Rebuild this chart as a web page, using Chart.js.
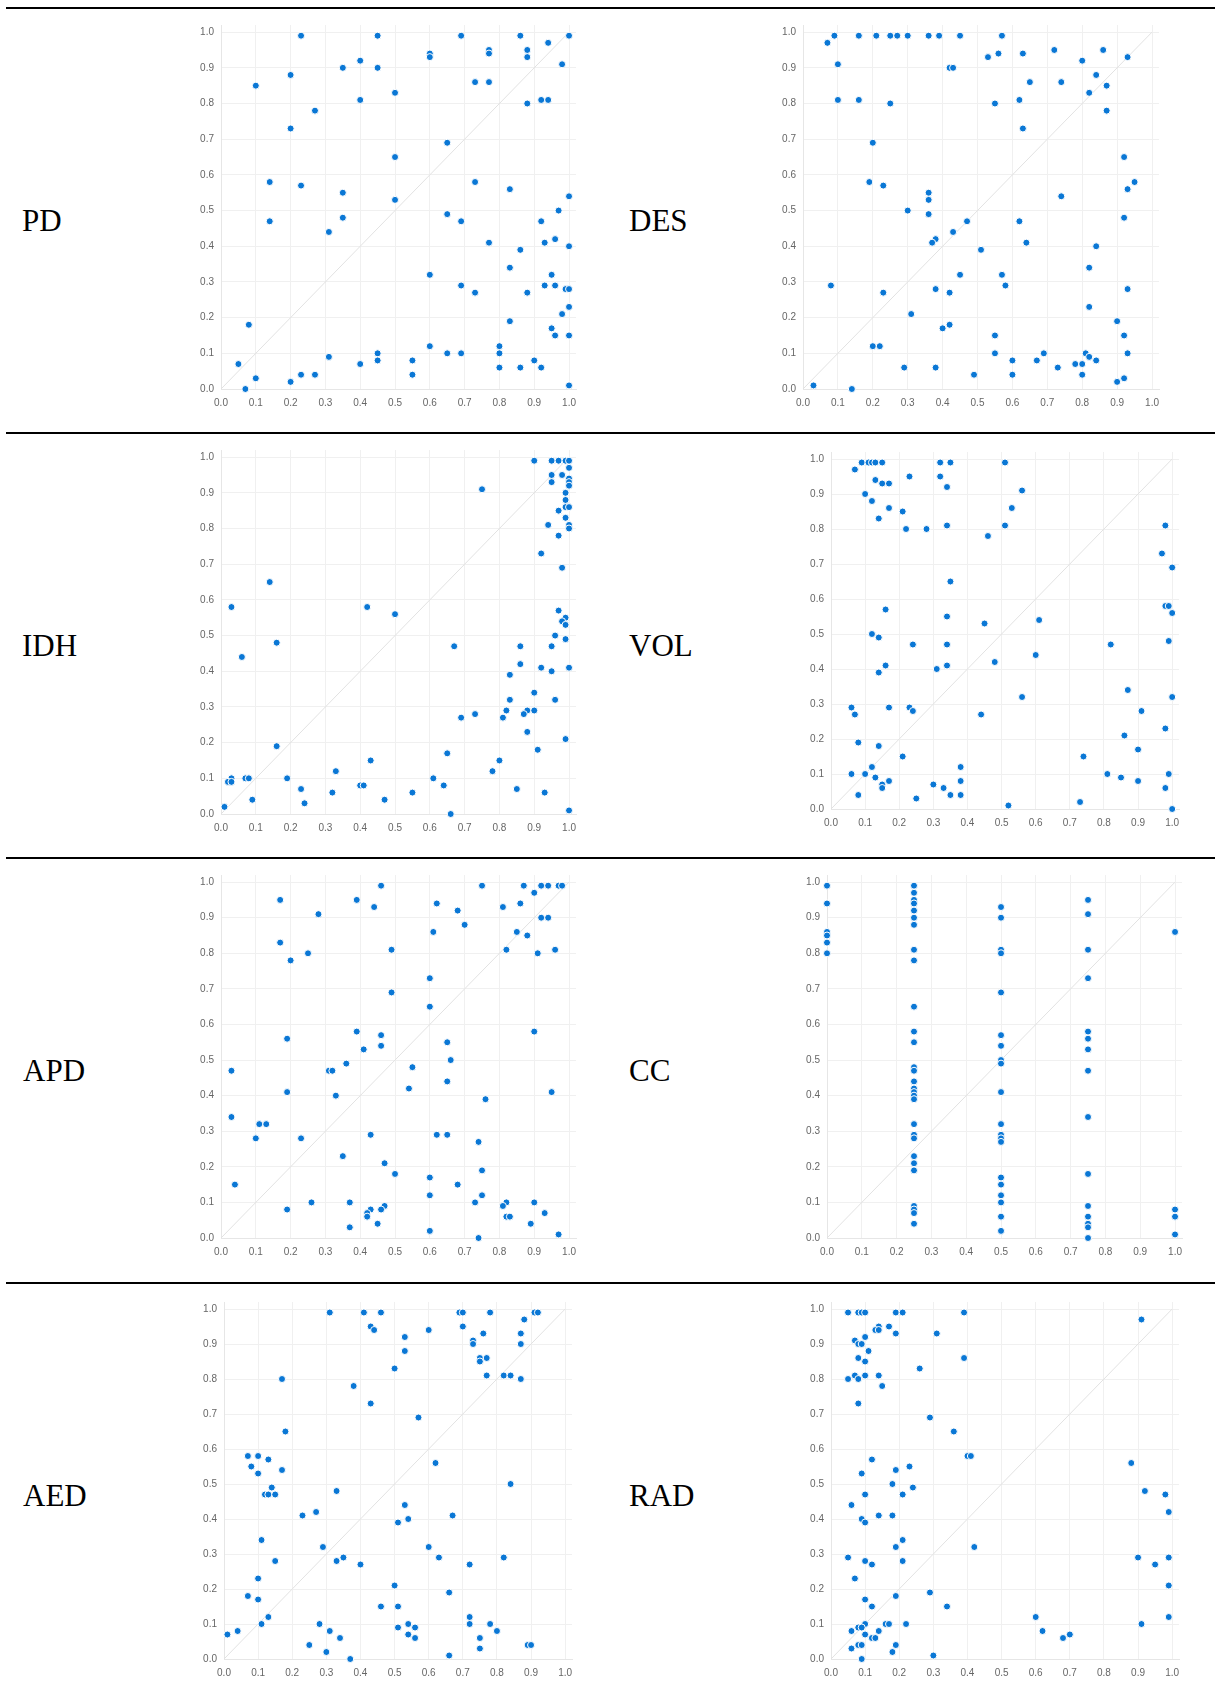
<!DOCTYPE html>
<html>
<head>
<meta charset="utf-8">
<script src="https://cdn.jsdelivr.net/npm/chart.js@4/dist/chart.umd.min.js"></script>
<style>
  body { margin: 0; background: #fff; }
  #page { position: relative; width: 1215px; height: 1700px; overflow: hidden; }
  .rule { position: absolute; left: 6px; width: 1209px; height: 2px; background: #000; }
  .name { position: absolute; font-family: "Liberation Serif", "Times New Roman", serif; font-size: 31px; line-height: 31px; color: #000; }
  .plot { position: absolute; }
</style>
</head>
<body>
<div id="page"></div>
<script>
// panel names, left column then right column, row by row
const panelNames = ["PD", "DES", "IDH", "VOL", "APD", "CC", "AED", "RAD"];
const tickValues = [0, 0.1, 0.2, 0.3, 0.4, 0.5, 0.6, 0.7, 0.8, 0.9, 1.0];

const pdX = [0.23,0.45,0.69,0.86,1.0,0.77,0.77,0.88,0.88,0.94,0.60,0.60,0.98,0.35,0.45,0.40,0.20,0.10,0.73,0.77,0.50,0.40,0.92,0.94,0.88,0.27,0.20,0.65,0.50,0.14,0.73,0.23,0.83,0.35,1.0,0.50,0.97,0.65,0.35,0.14,0.69,0.92,0.31,0.96,0.77,0.93,1.0,0.86,0.83,0.60,0.95,0.69,0.93,0.96,0.99,1.0,0.73,0.88,1.0,0.98,0.83,0.08,0.95,0.96,1.0,0.60,0.80,0.45,0.65,0.69,0.80,0.31,0.45,0.55,0.90,0.05,0.40,0.80,0.86,0.92,0.23,0.27,0.55,0.10,0.20,1.0,0.07];
const pdY = [0.99,0.99,0.99,0.99,0.99,0.95,0.94,0.95,0.93,0.97,0.94,0.93,0.91,0.90,0.90,0.92,0.88,0.85,0.86,0.86,0.83,0.81,0.81,0.81,0.80,0.78,0.73,0.69,0.65,0.58,0.58,0.57,0.56,0.55,0.54,0.53,0.50,0.49,0.48,0.47,0.47,0.47,0.44,0.42,0.41,0.41,0.40,0.39,0.34,0.32,0.32,0.29,0.29,0.29,0.28,0.28,0.27,0.27,0.23,0.21,0.19,0.18,0.17,0.15,0.15,0.12,0.12,0.10,0.10,0.10,0.10,0.09,0.08,0.08,0.08,0.07,0.07,0.06,0.06,0.06,0.04,0.04,0.04,0.03,0.02,0.01,0.00];

const desX = [0.07,0.09,0.16,0.21,0.25,0.27,0.30,0.36,0.39,0.45,0.57,0.10,0.53,0.56,0.63,0.72,0.86,0.93,0.80,0.42,0.43,0.84,0.65,0.74,0.87,0.82,0.10,0.16,0.62,0.25,0.55,0.87,0.63,0.20,0.92,0.19,0.95,0.23,0.93,0.36,0.74,0.36,0.30,0.36,0.92,0.47,0.62,0.43,0.38,0.37,0.64,0.84,0.51,0.82,0.45,0.57,0.08,0.58,0.38,0.93,0.23,0.42,0.82,0.31,0.90,0.42,0.40,0.55,0.92,0.20,0.22,0.55,0.69,0.81,0.93,0.82,0.60,0.67,0.84,0.78,0.80,0.29,0.38,0.73,0.49,0.60,0.80,0.92,0.90,0.03,0.14];
const desY = [0.97,0.99,0.99,0.99,0.99,0.99,0.99,0.99,0.99,0.99,0.99,0.91,0.93,0.94,0.94,0.95,0.95,0.93,0.92,0.90,0.90,0.88,0.86,0.86,0.85,0.83,0.81,0.81,0.81,0.80,0.80,0.78,0.73,0.69,0.65,0.58,0.58,0.57,0.56,0.55,0.54,0.53,0.50,0.49,0.48,0.47,0.47,0.44,0.42,0.41,0.41,0.40,0.39,0.34,0.32,0.32,0.29,0.29,0.28,0.28,0.27,0.27,0.23,0.21,0.19,0.18,0.17,0.15,0.15,0.12,0.12,0.10,0.10,0.10,0.10,0.09,0.08,0.08,0.08,0.07,0.07,0.06,0.06,0.06,0.04,0.04,0.04,0.03,0.02,0.01,0.00];

const idhX = [0.90,0.95,0.97,0.99,1.0,1.0,0.95,0.98,1.0,0.95,1.0,1.0,0.75,0.99,0.99,0.99,1.0,0.97,0.99,0.94,1.0,1.0,0.97,0.92,0.98,0.14,0.03,0.42,0.97,0.50,0.99,0.98,0.99,0.96,0.99,0.16,0.67,0.86,0.95,0.06,0.86,0.92,1.0,0.95,0.83,0.90,0.83,0.96,0.82,0.88,0.90,0.73,0.87,0.69,0.81,0.88,0.99,0.16,0.91,0.65,0.43,0.80,0.33,0.78,0.03,0.07,0.08,0.19,0.61,0.02,0.03,0.40,0.41,0.64,0.23,0.85,0.32,0.55,0.93,0.09,0.47,0.24,0.01,1.0,0.66];
const idhY = [0.99,0.99,0.99,0.99,0.99,0.97,0.95,0.95,0.94,0.93,0.93,0.92,0.91,0.90,0.88,0.86,0.86,0.85,0.83,0.81,0.81,0.80,0.78,0.73,0.69,0.65,0.58,0.58,0.57,0.56,0.55,0.54,0.53,0.50,0.49,0.48,0.47,0.47,0.47,0.44,0.42,0.41,0.41,0.40,0.39,0.34,0.32,0.32,0.29,0.29,0.29,0.28,0.28,0.27,0.27,0.23,0.21,0.19,0.18,0.17,0.15,0.15,0.12,0.12,0.10,0.10,0.10,0.10,0.10,0.09,0.09,0.08,0.08,0.08,0.07,0.07,0.06,0.06,0.06,0.04,0.04,0.03,0.02,0.01,0.00];

const volX = [0.07,0.09,0.11,0.12,0.13,0.15,0.32,0.35,0.51,0.13,0.23,0.32,0.15,0.17,0.34,0.56,0.10,0.12,0.17,0.53,0.21,0.14,0.34,0.51,0.98,0.22,0.28,0.46,0.97,1.0,0.35,0.16,0.98,0.99,1.0,0.34,0.61,0.45,0.12,0.14,0.99,0.24,0.34,0.82,0.16,0.34,0.48,0.60,0.31,0.14,0.87,0.56,1.0,0.06,0.17,0.23,0.24,0.91,0.07,0.44,0.98,0.86,0.08,0.14,0.90,0.21,0.74,0.12,0.38,0.06,0.10,0.81,0.99,0.13,0.85,0.15,0.15,0.17,0.38,0.90,0.30,0.33,0.98,0.08,0.35,0.38,0.25,0.73,0.52,1.0];
const volY = [0.97,0.99,0.99,0.99,0.99,0.99,0.99,0.99,0.99,0.94,0.95,0.95,0.93,0.93,0.92,0.91,0.90,0.88,0.86,0.86,0.85,0.83,0.81,0.81,0.81,0.80,0.80,0.78,0.73,0.69,0.65,0.57,0.58,0.58,0.56,0.55,0.54,0.53,0.50,0.49,0.48,0.47,0.47,0.47,0.41,0.41,0.42,0.44,0.40,0.39,0.34,0.32,0.32,0.29,0.29,0.29,0.28,0.28,0.27,0.27,0.23,0.21,0.19,0.18,0.17,0.15,0.15,0.12,0.12,0.10,0.10,0.10,0.10,0.09,0.09,0.07,0.06,0.08,0.08,0.08,0.07,0.06,0.06,0.04,0.04,0.04,0.03,0.02,0.01,0.00];

const apdX = [0.46,0.75,0.87,0.92,0.94,0.97,0.98,0.90,0.17,0.39,0.86,0.62,0.44,0.81,0.68,0.28,0.92,0.94,0.70,0.61,0.85,0.88,0.17,0.49,0.82,0.96,0.91,0.25,0.20,0.60,0.49,0.60,0.39,0.90,0.46,0.19,0.65,0.46,0.41,0.66,0.36,0.55,0.03,0.31,0.32,0.65,0.54,0.19,0.95,0.33,0.76,0.03,0.11,0.13,0.10,0.23,0.43,0.62,0.65,0.74,0.35,0.47,0.75,0.50,0.60,0.04,0.68,0.60,0.75,0.26,0.37,0.73,0.82,0.90,0.47,0.81,0.19,0.43,0.46,0.42,0.93,0.42,0.82,0.83,0.45,0.89,0.37,0.60,0.97,0.74];
const apdY = [0.99,0.99,0.99,0.99,0.99,0.99,0.99,0.97,0.95,0.95,0.94,0.94,0.93,0.93,0.92,0.91,0.90,0.90,0.88,0.86,0.86,0.85,0.83,0.81,0.81,0.81,0.80,0.80,0.78,0.73,0.69,0.65,0.58,0.58,0.57,0.56,0.55,0.54,0.53,0.50,0.49,0.48,0.47,0.47,0.47,0.44,0.42,0.41,0.41,0.40,0.39,0.34,0.32,0.32,0.28,0.28,0.29,0.29,0.29,0.27,0.23,0.21,0.19,0.18,0.17,0.15,0.15,0.12,0.12,0.10,0.10,0.10,0.10,0.10,0.09,0.09,0.08,0.08,0.08,0.07,0.07,0.06,0.06,0.06,0.04,0.04,0.03,0.02,0.01,0.00];

const ccX = [0,0,0,0,0,0,
  0.25,0.25,0.25,0.25,0.25,0.25,0.25,0.25,0.25,0.25,0.25,0.25,0.25,0.25,0.25,0.25,0.25,0.25,0.25,0.25,0.25,0.25,0.25,0.25,0.25,0.25,0.25,0.25,0.25,
  0.5,0.5,0.5,0.5,0.5,0.5,0.5,0.5,0.5,0.5,0.5,0.5,0.5,0.5,0.5,0.5,0.5,0.5,0.5,0.5,
  0.75,0.75,0.75,0.75,0.75,0.75,0.75,0.75,0.75,0.75,0.75,0.75,0.75,0.75,0.75,
  1.0,1.0,1.0,1.0];
const ccY = [0.99,0.94,0.86,0.85,0.83,0.80,
  0.99,0.97,0.95,0.94,0.92,0.90,0.88,0.81,0.78,0.65,0.58,0.55,0.48,0.47,0.44,0.42,0.41,0.40,0.39,0.32,0.29,0.28,0.23,0.21,0.19,0.09,0.08,0.07,0.04,
  0.93,0.90,0.81,0.80,0.69,0.57,0.54,0.50,0.49,0.41,0.32,0.29,0.28,0.27,0.17,0.15,0.12,0.10,0.06,0.02,
  0.95,0.91,0.81,0.73,0.58,0.56,0.53,0.47,0.34,0.18,0.09,0.06,0.04,0.03,0.00,
  0.86,0.08,0.06,0.01];

const aedX = [0.31,0.41,0.46,0.69,0.70,0.78,0.91,0.92,0.88,0.43,0.44,0.60,0.70,0.53,0.73,0.73,0.76,0.87,0.87,0.53,0.75,0.77,0.75,0.50,0.77,0.82,0.84,0.17,0.87,0.38,0.43,0.57,0.18,0.07,0.10,0.13,0.62,0.08,0.17,0.10,0.84,0.14,0.33,0.12,0.13,0.15,0.53,0.27,0.23,0.67,0.54,0.51,0.11,0.29,0.60,0.35,0.63,0.82,0.15,0.33,0.40,0.72,0.10,0.50,0.66,0.07,0.10,0.46,0.51,0.13,0.72,0.11,0.28,0.54,0.72,0.78,0.51,0.56,0.31,0.04,0.80,0.01,0.54,0.34,0.56,0.75,0.25,0.89,0.90,0.75,0.30,0.66,0.37];
const aedY = [0.99,0.99,0.99,0.99,0.99,0.99,0.99,0.99,0.97,0.95,0.94,0.94,0.95,0.92,0.91,0.90,0.93,0.93,0.90,0.88,0.86,0.86,0.85,0.83,0.81,0.81,0.81,0.80,0.80,0.78,0.73,0.69,0.65,0.58,0.58,0.57,0.56,0.55,0.54,0.53,0.50,0.49,0.48,0.47,0.47,0.47,0.44,0.42,0.41,0.41,0.40,0.39,0.34,0.32,0.32,0.29,0.29,0.29,0.28,0.28,0.27,0.27,0.23,0.21,0.19,0.18,0.17,0.15,0.15,0.12,0.12,0.10,0.10,0.10,0.10,0.10,0.09,0.09,0.08,0.08,0.08,0.07,0.07,0.06,0.06,0.06,0.04,0.04,0.04,0.03,0.02,0.01,0.00];

const radX = [0.05,0.08,0.09,0.10,0.19,0.21,0.39,0.91,0.14,0.17,0.13,0.14,0.19,0.31,0.10,0.07,0.08,0.09,0.11,0.08,0.39,0.10,0.26,0.07,0.10,0.14,0.05,0.08,0.15,0.08,0.29,0.36,0.40,0.41,0.12,0.88,0.23,0.19,0.09,0.18,0.24,0.92,0.10,0.21,0.98,0.06,0.99,0.14,0.18,0.09,0.10,0.21,0.19,0.42,0.05,0.90,0.99,0.10,0.21,0.12,0.95,0.07,0.99,0.29,0.19,0.10,0.12,0.34,0.60,0.99,0.10,0.16,0.17,0.22,0.91,0.08,0.09,0.06,0.14,0.62,0.10,0.70,0.12,0.13,0.68,0.08,0.09,0.19,0.06,0.18,0.30,0.09];
const radY = [0.99,0.99,0.99,0.99,0.99,0.99,0.99,0.97,0.95,0.95,0.94,0.94,0.93,0.93,0.92,0.91,0.90,0.90,0.88,0.86,0.86,0.85,0.83,0.81,0.81,0.81,0.80,0.80,0.78,0.73,0.69,0.65,0.58,0.58,0.57,0.56,0.55,0.54,0.53,0.50,0.49,0.48,0.47,0.47,0.47,0.44,0.42,0.41,0.41,0.40,0.39,0.34,0.32,0.32,0.29,0.29,0.29,0.28,0.28,0.27,0.27,0.23,0.21,0.19,0.18,0.17,0.15,0.15,0.12,0.12,0.10,0.10,0.10,0.10,0.10,0.09,0.09,0.08,0.08,0.08,0.07,0.07,0.06,0.06,0.06,0.04,0.04,0.04,0.03,0.02,0.01,0.00];

const panelX = [pdX, desX, idhX, volX, apdX, ccX, aedX, radX];
const panelY = [pdY, desY, idhY, volY, apdY, ccY, aedY, radY];

// pixel spots of the 0 and 1 ticks on each plot: [x0, x1, y1, y0]
const boxes = [
  [220.7, 569.0, 31.7, 389.0],
  [803.3, 1152.3, 31.7, 389.0],
  [220.7, 569.0, 456.7, 814.0],
  [831.0, 1172.3, 459.3, 809.3],
  [220.7, 569.0, 881.7, 1238.0],
  [826.7, 1175.0, 882.0, 1238.0],
  [224.3, 565.7, 1309.3, 1659.3],
  [831.0, 1172.3, 1309.3, 1659.3]
];
const labelSpots = [[22, 205], [629, 205], [22, 630], [629, 630], [23, 1055], [629, 1055], [23, 1480], [629, 1480]];

const page = document.getElementById("page");

[7, 432, 857, 1282].forEach(top => {
  const r = document.createElement("div");
  r.className = "rule";
  r.style.top = top + "px";
  page.appendChild(r);
});

const AXIS_MAX = 1.02;
const Y_W = 24, X_H = 25, PAD_T = 16, PAD_R = 12;

function makePanel(i) {
  const lab = document.createElement("div");
  lab.className = "name";
  lab.textContent = panelNames[i];
  lab.style.left = labelSpots[i][0] + "px";
  lab.style.top = labelSpots[i][1] + "px";
  page.appendChild(lab);

  const [x0, x1, y1, y0] = boxes[i];
  const w = (x1 - x0) * AXIS_MAX;
  const h = (y0 - y1) * AXIS_MAX;
  const holder = document.createElement("div");
  holder.className = "plot";
  holder.style.left = Math.round(x0 - Y_W) + "px";
  holder.style.top = Math.round(y0 - h - PAD_T) + "px";
  const cv = document.createElement("canvas");
  cv.width = Math.round(Y_W + w + PAD_R);
  cv.height = Math.round(PAD_T + h + X_H);
  holder.appendChild(cv);
  page.appendChild(holder);

  const pts = panelX[i].map((x, k) => ({ x: x, y: panelY[i][k] }));

  const tickFont = { family: "'Liberation Sans', Arial, sans-serif", size: 10 };
  const setTicks = scale => { scale.ticks = tickValues.map(v => ({ value: v })); };

  new Chart(cv.getContext("2d"), {
    type: "scatter",
    data: {
      datasets: [
        {
          data: pts,
          order: 0,
          clip: false,
          pointRadius: 3.5,
          pointBorderWidth: 1,
          pointBackgroundColor: "#0a77d5",
          pointBorderColor: "#ffffff"
        },
        {
          data: [{ x: 0, y: 0 }, { x: 1, y: 1 }],
          order: 1,
          showLine: true,
          borderColor: "#e2e2e2",
          borderWidth: 1,
          pointRadius: 0
        }
      ]
    },
    options: {
      responsive: false,
      animation: false,
      events: [],
      layout: { padding: { top: PAD_T, right: PAD_R, left: 0, bottom: 0 } },
      plugins: { legend: { display: false }, tooltip: { enabled: false } },
      scales: {
        x: {
          type: "linear",
          min: 0,
          max: AXIS_MAX,
          afterBuildTicks: setTicks,
          afterFit: s => { s.height = X_H; },
          grid: { color: "#f0f0f0", drawTicks: false },
          border: { color: "#e6e6e6" },
          ticks: { autoSkip: false, maxRotation: 0, padding: 8, color: "#666", font: tickFont, callback: v => v.toFixed(1) }
        },
        y: {
          type: "linear",
          min: 0,
          max: AXIS_MAX,
          afterBuildTicks: setTicks,
          afterFit: s => { s.width = Y_W; },
          grid: { color: "#f0f0f0", drawTicks: false },
          border: { color: "#e6e6e6" },
          ticks: { autoSkip: false, padding: 7, color: "#666", font: tickFont, callback: v => v.toFixed(1) }
        }
      }
    }
  });
}

panelNames.forEach((n, i) => makePanel(i));
</script>
</body>
</html>
